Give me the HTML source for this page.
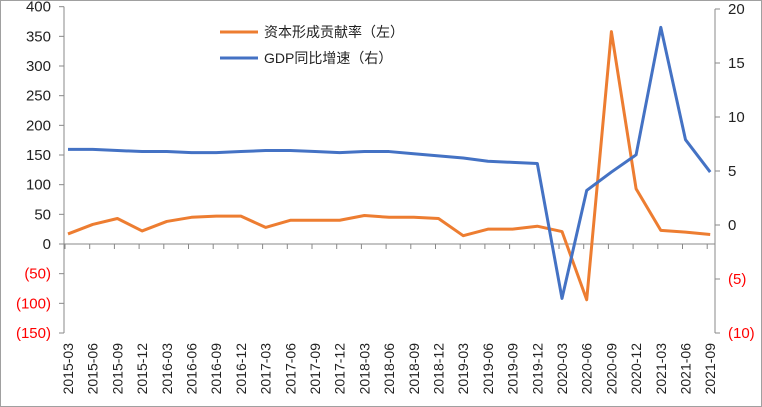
<!DOCTYPE html>
<html><head><meta charset="utf-8"><style>
body{margin:0;background:#fff}
svg{display:block;font-family:"Liberation Sans","Noto Sans CJK SC",sans-serif}
</style></head><body>
<svg width="762" height="407" viewBox="0 0 762 407">
<rect x="0.5" y="0.5" width="761" height="406" fill="#fff" stroke="#a0a0a0"/>
<g id="axes"></g>
<g id="series"></g>
<g>
<line x1="220" y1="32" x2="258" y2="32" stroke="#ED7D31" stroke-width="3"/>
<text x="264" y="37" font-size="14" fill="#222">资本形成贡献率（左）</text>
<line x1="220" y1="58" x2="258" y2="58" stroke="#4472C4" stroke-width="3"/>
<text x="264" y="63" font-size="14" fill="#222">GDP同比增速（右）</text>
</g>
</svg>
<script>
const categories=["2015-03","2015-06","2015-09","2015-12","2016-03","2016-06","2016-09","2016-12","2017-03","2017-06","2017-09","2017-12","2018-03","2018-06","2018-09","2018-12","2019-03","2019-06","2019-09","2019-12","2020-03","2020-06","2020-09","2020-12","2021-03","2021-06","2021-09"];
const capitalContribution=[17,33,43,22,38,45,47,47,28,40,40,40,48,45,45,43,14,25,25,30,21,-94,358,93,23,20,16];
const gdpGrowth=[7.0,7.0,6.9,6.8,6.8,6.7,6.7,6.8,6.9,6.9,6.8,6.7,6.8,6.8,6.6,6.4,6.2,5.9,5.8,5.7,-6.8,3.2,4.9,6.5,18.3,7.9,4.9];
const leftTicks=[400,350,300,250,200,150,100,50,0,-50,-100,-150];
const rightTicks=[20,15,10,5,0,-5,-10];
const NS="http://www.w3.org/2000/svg";
const X0=68,XS=24.7,LA=64,RA=715;
const x=i=>X0+i*XS;
const yL=v=>244-v*0.5933;
const yR=v=>225-v*10.8;
const fmt=v=>v<0?"("+(-v)+")":String(v);
function mk(t,a,p){const e=document.createElementNS(NS,t);for(const k in a)e.setAttribute(k,a[k]);p.appendChild(e);return e;}
const ax=document.getElementById("axes"),sr=document.getElementById("series");
let e=mk("line",{x1:LA,y1:yL(400),x2:LA,y2:yL(-150),stroke:"#888"},ax);


e=mk("line",{x1:RA,y1:yR(20),x2:RA,y2:yR(-10),stroke:"#888"},ax);


e=mk("line",{x1:LA,y1:yL(0),x2:RA,y2:yL(0),stroke:"#888"},ax);


leftTicks.forEach(v=>{
 mk("line",{x1:LA-5,y1:yL(v),x2:LA,y2:yL(v),stroke:"#888"},ax);
 const t=mk("text",{x:LA-13,y:yL(v)+5,"text-anchor":"end","font-size":15,fill:v<0?"#FF0000":"#222"},ax);
 t.textContent=fmt(v);
 
 
});
rightTicks.forEach(v=>{
 mk("line",{x1:RA,y1:yR(v),x2:RA+5,y2:yR(v),stroke:"#888"},ax);
 const t=mk("text",{x:RA+13,y:yR(v)+5,"font-size":15,fill:v<0?"#FF0000":"#222"},ax);
 t.textContent=fmt(v);
 
 
});
categories.forEach((c,i)=>{
 mk("line",{x1:x(i)-3,y1:yL(0),x2:x(i)-3,y2:yL(0)+5,stroke:"#888"},ax);
 const t=mk("text",{transform:`translate(${x(i)+5},343) rotate(-90)`,"text-anchor":"end","font-size":14,fill:"#222"},ax);
 t.textContent=c;
 
 
});
let p=mk("polyline",{points:capitalContribution.map((v,i)=>x(i)+","+yL(v)).join(" "),fill:"none",stroke:"#ED7D31","stroke-width":3,"stroke-linejoin":"round"},sr);


p=mk("polyline",{points:gdpGrowth.map((v,i)=>x(i)+","+yR(v)).join(" "),fill:"none",stroke:"#4472C4","stroke-width":3,"stroke-linejoin":"round"},sr);


</script>
</body></html>
